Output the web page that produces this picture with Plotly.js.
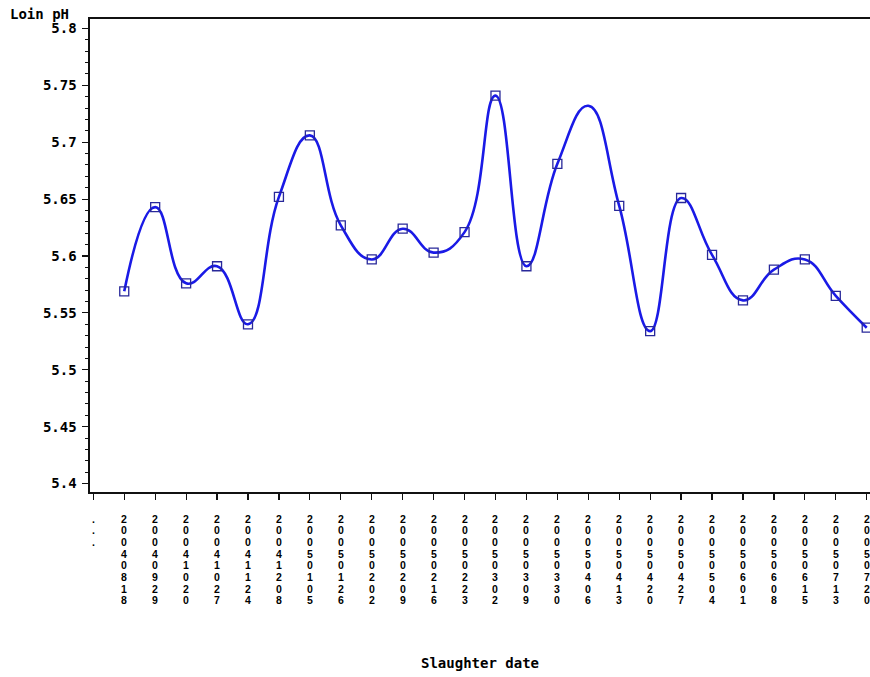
<!DOCTYPE html>
<html>
<head>
<meta charset="utf-8">
<script src="https://cdn.plot.ly/plotly-3.0.1.min.js"></script>
<style>
  html, body { margin: 0; padding: 0; background: #ffffff; overflow: hidden; width: 870px; height: 677px; }
  #chart { width: 900px; height: 677px; }
</style>
</head>
<body>
<div id="chart"></div>
<script>
// Categories on the x axis (slaughter dates, "." = missing date)
const slaughterDates = [".", "20040818", "20040929", "20041020", "20041027", "20041124", "20041208",
  "20050105", "20050126", "20050202", "20050209", "20050216", "20050223", "20050302", "20050309",
  "20050330", "20050406", "20050413", "20050420", "20050427", "20050504", "20050601", "20050608",
  "20050615", "20050713", "20050720"];

// Dates that carry a loin pH value
const measuredDates = slaughterDates.slice(1);

// Mean loin pH per slaughter date
const loinPH = [5.569, 5.643, 5.576, 5.591, 5.540, 5.652, 5.706, 5.627, 5.597, 5.624, 5.603, 5.621,
  5.741, 5.591, 5.681, 5.732, 5.644, 5.534, 5.651, 5.601, 5.561, 5.588, 5.597, 5.565, 5.537];

// Whether the square symbol is drawn for each point (1 = drawn)
const symbolShown = [1, 1, 1, 1, 1, 1, 1, 1, 1, 1, 1, 1, 1, 1, 1, 0, 1, 1, 1, 1, 1, 1, 1, 1, 1];

// Y tick values and labels
const yTickVals = [5.4, 5.45, 5.5, 5.55, 5.6, 5.65, 5.7, 5.75, 5.8];
const yTickLabels = ["5.4", "5.45", "5.5", "5.55", "5.6", "5.65", "5.7", "5.75", "5.8"];

// Characters of each date label, written vertically (missing date shown as three dots)
const xLabelChars = slaughterDates.map(d => d === "." ? [".", ".", "."] : d.split(""));

const monoFont = "DejaVu Sans Mono, Liberation Mono, monospace";

// geometry of the plot area (pixels)
const PLOT_TOP = 19.3, PLOT_H = 472.4, PLOT_L = 90, PLOT_W = 785.8;
const pyToPaper = py => 1 - (py - PLOT_TOP) / PLOT_H;
const pxToPaper = px => (px - PLOT_L) / PLOT_W;

// vertical tick labels: one text per character row, placed at the category's index on the x axis
const tickAnnotations = [];
slaughterDates.forEach((d, i) => {
  xLabelChars[i].forEach((ch, r) => {
    tickAnnotations.push({
      text: ch,
      xref: "x", yref: "paper",
      x: i, y: pyToPaper(518.3 + r * 11.67),
      xanchor: "center", yanchor: "middle",
      showarrow: false,
      borderpad: 0,
      font: { family: "Liberation Sans, Arial, sans-serif", size: 10.5, weight: "bold", color: "#000000" }
    });
  });
});

const trace = {
  x: measuredDates,
  y: loinPH,
  type: "scatter",
  mode: "lines+markers",
  line: { shape: "spline", smoothing: 1.3, color: "#1a1ae6", width: 2.6 },
  marker: {
    symbol: "square-open",
    size: 9,
    color: "#28289a",
    opacity: symbolShown,
    line: { width: 1.3, color: "#28289a" }
  },
  hoverinfo: "x+y"
};

const layout = {
  width: 900,
  height: 677,
  margin: { l: PLOT_L, r: 900 - PLOT_L - PLOT_W, t: PLOT_TOP, b: 677 - PLOT_TOP - PLOT_H },
  paper_bgcolor: "#ffffff",
  plot_bgcolor: "#ffffff",
  showlegend: false,
  xaxis: {
    type: "category",
    categoryorder: "array",
    categoryarray: slaughterDates,
    tickmode: "array",
    tickvals: slaughterDates,
    showticklabels: false,
    range: [-0.107, 25.3],
    showline: true,
    mirror: true,
    linecolor: "#111111",
    linewidth: 1.6,
    ticks: "outside",
    ticklen: 6,
    tickwidth: 1.2,
    tickcolor: "#111111",
    showgrid: false,
    zeroline: false,
    fixedrange: true
  },
  yaxis: {
    range: [5.3926, 5.8083],
    tickmode: "array",
    tickvals: yTickVals,
    ticktext: yTickLabels,
    showline: true,
    mirror: true,
    linecolor: "#111111",
    linewidth: 1.6,
    ticks: "outside",
    ticklen: 6,
    tickwidth: 1.2,
    tickcolor: "#111111",
    ticklabelstandoff: 3,
    minor: { dtick: 0.01, tick0: 5.4, ticks: "outside", ticklen: 3, tickwidth: 1, tickcolor: "#111111", showgrid: false },
    showgrid: false,
    zeroline: false,
    tickfont: { family: monoFont, size: 14, weight: "bold", color: "#000000" },
    fixedrange: true
  },
  annotations: tickAnnotations.concat([
    {
      text: "Loin pH",
      xref: "paper", yref: "paper",
      x: pxToPaper(8), y: pyToPaper(14),
      xanchor: "left", yanchor: "middle",
      showarrow: false,
      font: { family: monoFont, size: 14, weight: "bold", color: "#000000" }
    },
    {
      text: "Slaughter date",
      xref: "paper", yref: "paper",
      x: pxToPaper(480), y: pyToPaper(662),
      xanchor: "center", yanchor: "middle",
      showarrow: false,
      font: { family: monoFont, size: 14, weight: "bold", color: "#000000" }
    }
  ])
};

Plotly.newPlot("chart", [trace], layout, { displayModeBar: false, staticPlot: true });
</script>
</body>
</html>
